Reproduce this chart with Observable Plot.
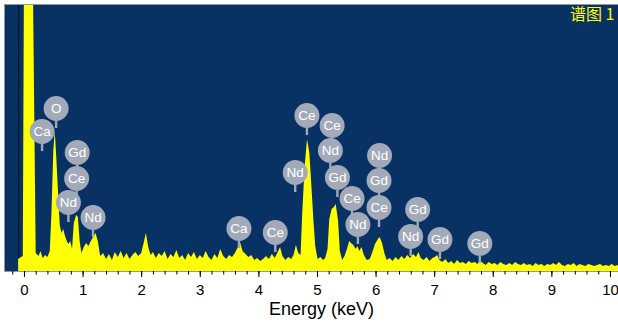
<!DOCTYPE html>
<html><head><meta charset="utf-8">
<script src="https://cdn.jsdelivr.net/npm/d3@7"></script>
<script src="https://cdn.jsdelivr.net/npm/@observablehq/plot@0.6"></script>
<style>body{margin:0;background:#fff} #chart svg{display:block}</style>
</head><body><div id="chart"></div>
<script>
// Spectrum: energy (keV) and counts (arbitrary units)
const energy = [
-0.10,-0.05,-0.02,0.00,0.15,0.20,0.25,0.28,0.32,0.36,0.40,0.44,0.47,0.50,0.525,0.55,0.58,0.61,0.64,0.67,
0.70,0.73,0.76,0.79,0.82,0.85,0.89,0.92,0.95,0.98,1.02,1.06,1.10,1.14,1.18,1.22,1.26,1.30,1.35,1.40,
1.45,1.50,1.55,1.60,1.65,1.70,1.75,1.80,1.85,1.90,1.95,2.00,2.05,2.08,2.12,2.16,2.20,2.25,2.30,2.35,
2.40,2.45,2.50,2.55,2.60,2.65,2.70,2.75,2.80,2.85,2.90,2.95,3.00,3.05,3.10,3.15,3.20,3.25,3.30,3.35,
3.40,3.45,3.50,3.55,3.60,3.65,3.69,3.73,3.78,3.83,3.88,3.93,3.98,4.03,4.08,4.13,4.18,4.23,4.28,4.33,
4.37,4.41,4.46,4.51,4.56,4.60,4.64,4.68,4.72,4.75,4.79,4.83,4.87,4.91,4.94,4.97,5.01,5.06,5.10,5.14,
5.18,5.21,5.25,5.29,5.32,5.36,5.39,5.43,5.47,5.51,5.55,5.58,5.62,5.66,5.69,5.72,5.76,5.80,5.85,5.90,
5.94,5.99,6.04,6.07,6.11,6.15,6.19,6.24,6.29,6.34,6.39,6.44,6.49,6.54,6.59,6.64,6.69,6.73,6.77,6.82,
6.87,6.92,6.97,7.01,7.05,7.09,7.14,7.19,7.24,7.29,7.34,7.39,7.44,7.49,7.54,7.59,7.64,7.69,7.74,7.78,
7.83,7.88,7.93,7.98,8.03,8.08,8.13,8.18,8.23,8.28,8.33,8.38,8.43,8.48,8.53,8.58,8.63,8.68,8.73,8.78,
8.83,8.88,8.93,8.98,9.03,9.08,9.13,9.18,9.23,9.28,9.33,9.38,9.43,9.48,9.53,9.58,9.63,9.68,9.73,9.78,
9.83,9.88,9.93,9.98,10.03,10.08,10.14];
const counts = [
12,14,15,300,300,18,15,20,13,16,14,20,60,120,140,115,80,46,38,42,
35,30,27,30,22,48,56,54,30,18,24,28,25,30,34,38,30,15,18,12,
17,11,19,14,20,13,18,12,16,19,15,18,30,38,24,16,19,13,18,15,
20,12,17,14,21,13,16,11,18,14,19,12,16,13,20,14,11,17,13,22,
15,12,16,14,18,24,28,20,17,14,16,11,13,10,12,15,12,17,13,19,
24,15,11,14,12,16,26,18,16,60,105,132,118,80,50,25,12,14,11,13,
22,52,62,64,67,50,20,11,15,22,30,28,26,22,25,20,24,16,11,12,
18,27,32,34,28,18,11,13,10,14,11,15,12,16,13,17,14,19,13,11,
14,10,13,14,16,11,9,12,8,10,7,11,8,9,7,10,8,9,7,11,
8,6,9,7,8,6,9,7,6,8,6,9,7,6,8,6,7,5,8,6,
7,5,7,6,8,6,9,6,5,7,6,8,5,7,6,5,7,6,5,6,
7,5,6,5,7,5,6];

// Element markers
const labelNames  = ["O","Ca","Gd","Ce","Nd","Nd","Ca","Ce","Nd","Ce","Ce","Nd","Gd","Ce","Nd","Nd","Gd","Ce","Gd","Nd","Gd","Gd"];
const labelEnergy = [0.54,0.30,0.90,0.89,0.75,1.17,3.66,4.28,4.62,4.82,5.25,5.22,5.34,5.59,5.69,6.06,6.05,6.05,6.71,6.59,7.09,7.77];
const labelHeight = [163,140,119,93,69,54,43,39,99,156,146,121,94,73,47,116,91,64,62,35,32,28];

const majorTicks = [0,1,2,3,4,5,6,7,8,9,10];
const minorTicks = d3.range(-1, 51).map(i => i * 0.2);
const title = "谱图 1";
const xLabel = "Energy (keV)";

const spectrum = energy.map((e, i) => ({e, c: counts[i]}));
const labels = labelNames.map((n, i) => ({n, e: labelEnergy[i], h: labelHeight[i]}));

const pin = {
  draw(ctx, size) {
    const r = Math.sqrt(size / Math.PI);
    ctx.moveTo(r, 0);
    ctx.arc(0, 0, r, 0, 2 * Math.PI);
    ctx.moveTo(-1.2, r - 1);
    ctx.lineTo(1.2, r - 1);
    ctx.lineTo(1.2, r + 7);
    ctx.lineTo(-1.2, r + 7);
    ctx.closePath();
  }
};

const chart = Plot.plot({
  width: 618,
  height: 322,
  marginLeft: 4,
  marginRight: 0,
  marginTop: 4,
  marginBottom: 51,
  style: {fontFamily: "'Liberation Sans', Arial, sans-serif", fontSize: "15px", color: "#000", background: "#fff"},
  x: {domain: [-0.341, 10.137]},
  y: {domain: [0, 267], axis: null},
  marks: [
    Plot.frame({fill: "#083263", stroke: null}),
    Plot.ruleX([-0.1], {stroke: "#0b1626", strokeWidth: 1.3}),
    Plot.areaY(spectrum, {x: "e", y: "c", fill: "#ffff00", clip: true}),
    Plot.dot(labels, {x: "e", y: "h", r: 12.5, symbol: pin, fill: "#a2aab9", stroke: null}),
    Plot.text(labels, {x: "e", y: "h", text: "n", fill: "#fff", fontSize: 13.5}),
    Plot.text([title], {frameAnchor: "top-right", dx: -4, dy: 4, lineAnchor: "top", fill: "#ffff00",
      fontSize: 16, fontFamily: "'Noto Sans CJK SC', sans-serif"}),
    Plot.frame({stroke: "#8f99a6", fill: null}),
    Plot.axisX(minorTicks, {tickSize: 3.5, tickFormat: () => "", stroke: "#000", label: null}),
    Plot.axisX(majorTicks, {tickSize: 6, tickPadding: 7, fontSize: 15, stroke: "#000", label: null}),
    Plot.text([xLabel], {frameAnchor: "bottom", dx: 10, dy: 43, lineAnchor: "bottom", fontSize: 18, fill: "#000"}),
  ]
});
document.getElementById("chart").append(chart);
</script>
</body></html>
